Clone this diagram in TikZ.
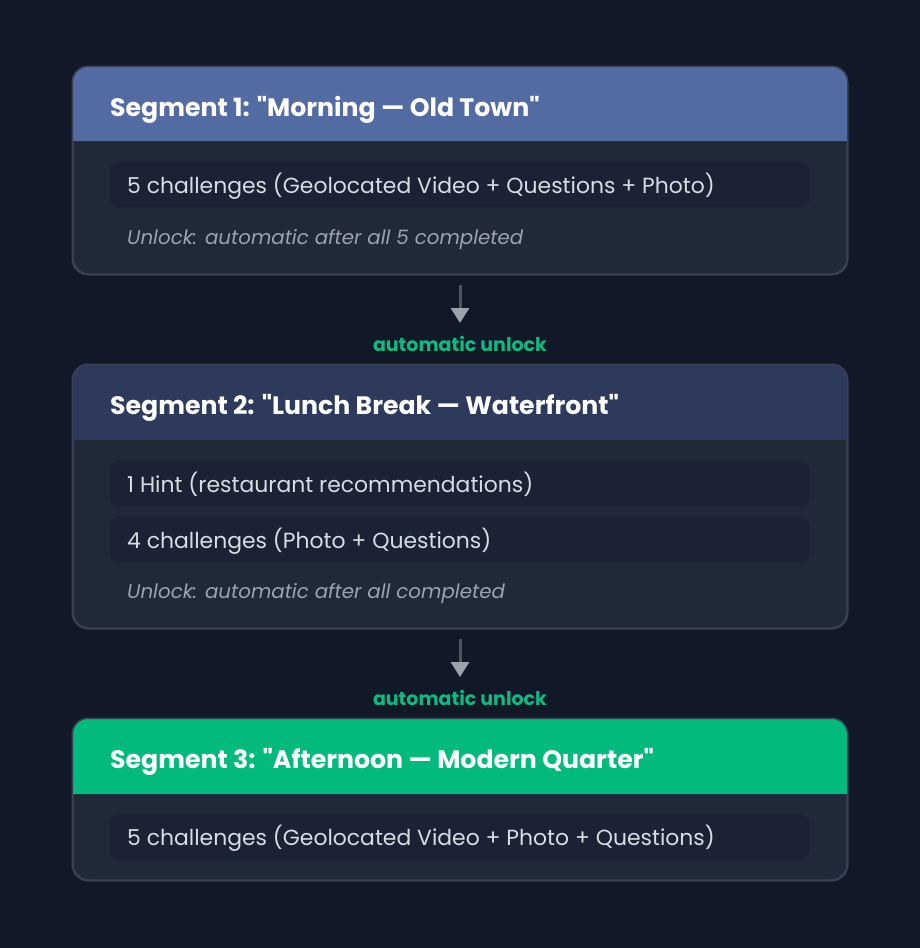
\documentclass[tikz,border=0pt]{standalone}
\usepackage{fontspec}
\setmainfont[Ligatures=TeXOff]{Poppins}
\usetikzlibrary{arrows.meta}
\definecolor{bg}{HTML}{111827}
\definecolor{cardfill}{HTML}{1F2937}
\definecolor{cardline}{HTML}{374151}
\definecolor{itemfill}{HTML}{1A2234}
\definecolor{hdrA}{HTML}{536BA3}
\definecolor{hdrB}{HTML}{2D3A5C}
\definecolor{hdrC}{HTML}{03BA7D}
\definecolor{bodytxt}{HTML}{D8DCE3}
\definecolor{notetxt}{HTML}{9CA3AF}
\definecolor{arrline}{HTML}{4B5563}
\definecolor{arrhead}{HTML}{9CA3AF}
\definecolor{green}{HTML}{10B981}
\tikzset{
  card/.style={fill=cardfill, draw=cardline, line width=1.5pt, rounded corners=16pt, minimum width=774pt, inner sep=0pt},
  cardedge/.style={draw=cardline, line width=1.5pt, rounded corners=16pt},
  itembox/.style={fill=itemfill, rounded corners=8pt, minimum width=699pt, minimum height=45pt, inner sep=0pt},
  hdrtext/.style={anchor=base west, inner sep=0pt, text=white, font=\fontsize{25.2}{28}\selectfont\bfseries},
  bodytext/.style={anchor=base west, inner sep=0pt, text=bodytxt, font=\fontsize{21.9}{25}\selectfont},
  notetext/.style={anchor=base west, inner sep=0pt, text=notetxt, font=\fontsize{19.8}{23}\selectfont\itshape},
  lbl/.style={anchor=base, inner sep=0pt, text=green, font=\fontsize{19}{22}\selectfont\bfseries},
  flow/.style={draw=arrline, line width=3pt, -{Triangle[width=18pt,length=15pt,color=arrhead]}}
}
\begin{document}
\begin{tikzpicture}[x=1pt,y=-1pt]
\fill[bg] (0,0) rectangle (920,948);
\useasboundingbox (0,0) rectangle (920,948);

% ---- Card 1
\node[card, minimum height=207pt] (c1) at (460,170.5) {};
\fill[hdrA] (c1.west |- 0,141) {[rounded corners=16pt] -- (c1.north west) -- (c1.north east)} -- (c1.east |- 0,141) -- cycle;
\draw[cardedge] (c1.north west) rectangle (c1.south east);
\node[hdrtext] (h1) at (110,116) {Segment 1: "Morning — Old Town"};
\node[itembox] (i11) at (459.5,184.5) {};
\node[bodytext] (t11) at (127,193) {5 challenges (Geolocated Video + Questions + Photo)};
\node[notetext] (n1) at (127,244) {Unlock: automatic after all 5 completed};

% ---- Card 2
\node[card, minimum height=263pt] (c2) at (460,496.5) {};
\fill[hdrB] (c2.west |- 0,440) {[rounded corners=16pt] -- (c2.north west) -- (c2.north east)} -- (c2.east |- 0,440) -- cycle;
\draw[cardedge] (c2.north west) rectangle (c2.south east);
\node[hdrtext] (h2) at (110,414) {Segment 2: "Lunch Break — Waterfront"};
\node[itembox] (i21) at (459.5,483.5) {};
\node[bodytext] (t21) at (127,492) {1 Hint (restaurant recommendations)};
\node[itembox] (i22) at (459.5,539.5) {};
\node[bodytext] (t22) at (127,548) {4 challenges (Photo + Questions)};
\node[notetext] (n2) at (127,598) {Unlock: automatic after all completed};

% ---- Card 3
\node[card, minimum height=161pt] (c3) at (460,799.5) {};
\fill[hdrC] (c3.west |- 0,794) {[rounded corners=16pt] -- (c3.north west) -- (c3.north east)} -- (c3.east |- 0,794) -- cycle;
\draw[cardedge] (c3.north west) rectangle (c3.south east);
\node[hdrtext] (h3) at (110,768) {Segment 3: "Afternoon — Modern Quarter"};
\node[itembox] (i31) at (459.5,837) {};
\node[bodytext] (t31) at (127,845.5) {5 challenges (Geolocated Video + Photo + Questions)};

% ---- connectors
\node[lbl] (l1) at (460,351.5) {automatic unlock};
\node[lbl] (l2) at (460,705.5) {automatic unlock};
\draw[flow] ([yshift=-10pt]c1.south) -- ([yshift=28.5pt]l1.base);
\draw[flow] ([yshift=-10pt]c2.south) -- ([yshift=28.5pt]l2.base);
\end{tikzpicture}
\end{document}
